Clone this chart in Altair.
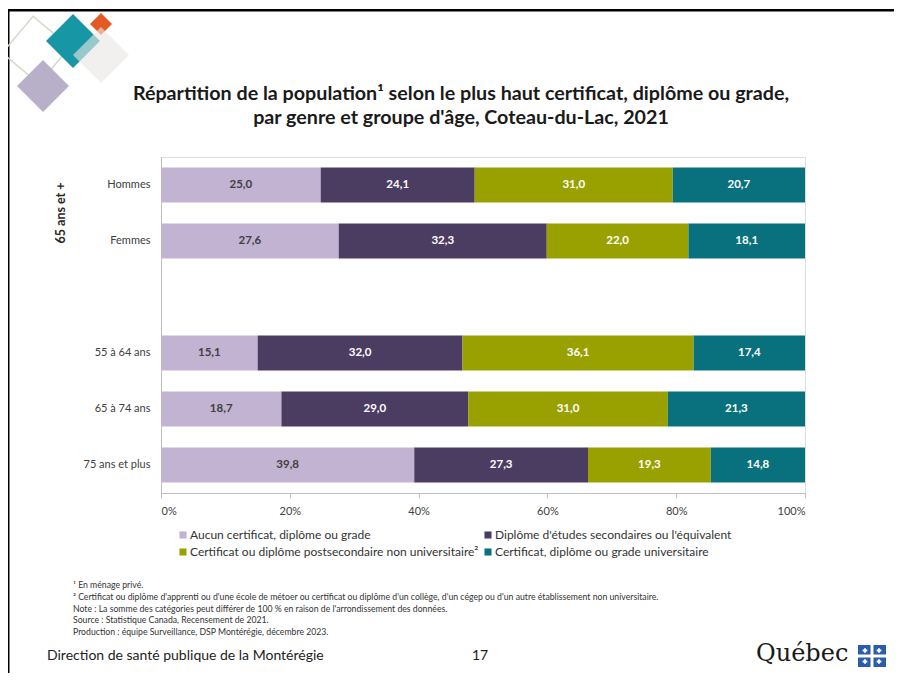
import altair as alt
import pandas as pd

# ---- data ----
groups = ["Hommes", "Femmes", "55 à 64 ans", "65 à 74 ans", "75 ans et plus"]
y_domain = ["Hommes", "Femmes", " ", "55 à 64 ans", "65 à 74 ans", "75 ans et plus"]
categories = [
    "Aucun certificat, diplôme ou grade",
    "Diplôme d'études secondaires ou l'équivalent",
    "Certificat ou diplôme postsecondaire non universitaire²",
    "Certificat, diplôme ou grade universitaire",
]
aucun = [25.0, 27.6, 15.1, 18.7, 39.8]
secondaire = [24.1, 32.3, 32.0, 29.0, 27.3]
postsec = [31.0, 22.0, 36.1, 31.0, 19.3]
universitaire = [20.7, 18.1, 17.4, 21.3, 14.8]
colors = ["#C1B3D1", "#4B3C62", "#98A100", "#08717D"]

series = [aucun, secondaire, postsec, universitaire]
rows = []
for ci, (cat, vals) in enumerate(zip(categories, series)):
    for g, v in zip(groups, vals):
        rows.append({"group": g, "cat": cat, "order": ci, "value": v,
                     "label": f"{v:.1f}".replace(".", ",")})
df = pd.DataFrame(rows)

FONT = "Lato"
title_lines = [
    "Répartition de la population¹ selon le plus haut certificat, diplôme ou grade,",
    "par genre et groupe d'âge, Coteau-du-Lac, 2021",
]
footnotes = [
    "¹ En ménage privé.",
    "² Certificat ou diplôme d'apprenti ou d'une école de métoer ou certificat ou diplôme d'un collège, d'un cégep ou d'un autre établissement non universitaire.",
    "Note : La somme des catégories peut différer de 100 % en raison de l'arrondissement des données.",
    "Source : Statistique Canada, Recensement de 2021.",
    "Production : équipe Surveillance, DSP Montérégie, décembre 2023.",
]

base = alt.Chart(df).transform_stack(
    stack="value", groupby=["group"], as_=["v0", "v1"],
    offset="normalize", sort=[alt.SortField("order", "ascending")]
).transform_calculate(mid="(datum.v0 + datum.v1) / 2")

yenc = alt.Y("group:N", scale=alt.Scale(domain=y_domain, paddingInner=0.375, paddingOuter=0.1875),
             axis=alt.Axis(title=None, ticks=False, domainColor="#BFBFBF", labelColor="#404040",
                           labelFontSize=11, labelFont=FONT, labelPadding=11))

bars = base.mark_bar().encode(
    x=alt.X("v0:Q", scale=alt.Scale(domain=[0, 1], nice=False),
            axis=alt.Axis(title=None, values=[0, 0.2, 0.4, 0.6, 0.8, 1.0], format=".0%",
                          grid=False, tickSize=5, tickColor="#BFBFBF", domainColor="#BFBFBF",
                          labelColor="#404040", labelFontSize=11, labelFont=FONT, labelPadding=7)),
    x2="v1:Q",
    y=yenc,
    color=alt.Color("cat:N", scale=alt.Scale(domain=categories, range=colors),
                    legend=alt.Legend(title=None, orient="none", legendX=16, legendY=372,
                                      direction="horizontal", columns=2, symbolType="square",
                                      symbolSize=50, symbolStrokeWidth=0, labelFontSize=12,
                                      labelFont=FONT, labelColor="#333333", columnPadding=3,
                                      rowPadding=5, labelOffset=1, padding=0, labelLimit=0)),
)

labels = base.mark_text(font=FONT, fontSize=11.5, fontWeight="bold").encode(
    x="mid:Q",
    y=alt.Y("group:N", scale=alt.Scale(domain=y_domain)),
    text="label:N",
    color=alt.condition(alt.datum.order == 0, alt.value("#404040"), alt.value("white")),
)

one = alt.Data(values=[{}])

group_label = alt.Chart(one).mark_text(text="65 ans et +", angle=270, font=FONT, fontSize=12.5,
                                       fontWeight="bold", color="#262626").encode(
    x=alt.value(-100), y=alt.value(56))

title = alt.Chart(one).mark_text(text=title_lines, font=FONT, fontSize=19.7, fontWeight="bold",
                                 color="#1a1a1a", lineHeight=24, baseline="middle").encode(
    x=alt.value(300), y=alt.value(-63))

notes = alt.Chart(one).mark_text(text=footnotes, font=FONT, fontSize=8.7, color="#333333",
                                 align="left", baseline="top", lineHeight=11.8).encode(
    x=alt.value(-88), y=alt.value(424))

footer = alt.Chart(one).mark_text(text="Direction de santé publique de la Montérégie", font=FONT,
                                  fontSize=14, color="#222222", align="left",
                                  baseline="middle").encode(x=alt.value(-114), y=alt.value(499))
page = alt.Chart(one).mark_text(text="17", font=FONT, fontSize=14, color="#222222",
                                baseline="middle").encode(x=alt.value(319), y=alt.value(499))
quebec = alt.Chart(one).mark_text(text="Québec", font="DejaVu Serif", fontSize=24, color="#1a1a1a",
                                  align="left", baseline="alphabetic").encode(
    x=alt.value(595), y=alt.value(504))
flag = alt.Chart(one).mark_rect(color="#2A5CAA").encode(
    x=alt.value(697), x2=alt.value(725), y=alt.value(488), y2=alt.value(510))
flag_v = alt.Chart(one).mark_rule(color="white", strokeWidth=3).encode(
    x=alt.value(711), y=alt.value(488), y2=alt.value(510))
flag_h = alt.Chart(one).mark_rule(color="white", strokeWidth=3).encode(
    x=alt.value(697), x2=alt.value(725), y=alt.value(499))
fleurs = [
    alt.Chart(one).mark_point(shape="cross", filled=True, size=22, color="white", opacity=1).encode(
        x=alt.value(px), y=alt.value(py))
    for px, py in [(704, 493.5), (718, 493.5), (704, 504.5), (718, 504.5)]
]

# frame
frame_top = alt.Chart(one).mark_rect(color="black").encode(
    x=alt.value(-154), x2=alt.value(733), y=alt.value(-148), y2=alt.value(-145.5))
frame_left = alt.Chart(one).mark_rect(color="black").encode(
    x=alt.value(-154), x2=alt.value(-151.5), y=alt.value(-148), y2=alt.value(516))

# logo diamonds
def diamond(cx, cy, r, color, opacity=1.0):
    return alt.Chart(one).mark_point(shape="diamond", filled=True, size=4 * r * r, color=color,
                                     opacity=opacity, strokeWidth=0).encode(
        x=alt.value(cx - 161), y=alt.value(cy - 157))

outline = alt.Chart(one).mark_point(shape="square", filled=False, size=2300, angle=40,
                                    color="#D3D8C9", strokeWidth=1.5, opacity=1).encode(
    x=alt.value(36 - 161), y=alt.value(50 - 157))

logo = [
    outline,
    diamond(43, 86, 26, "#B8AFC9"),
    diamond(73, 41, 27, "#1797A6"),
    diamond(101, 24, 11, "#E55A24"),
    diamond(101, 55, 28, "#E9E6E3", 0.62),
]

chart = alt.layer(
    bars, labels, group_label, title, notes, footer, page, quebec, flag, flag_v, flag_h,
    *fleurs, frame_top, frame_left, *logo
).properties(
    width=644, height=336,
    autosize=alt.AutoSizeParams(type="none"),
    padding={"left": 153, "top": 149, "right": 89, "bottom": 181},
).configure_view(stroke=None).configure(background="white")

chart.save("out.html", embed_options={"renderer": "svg", "actions": False})
